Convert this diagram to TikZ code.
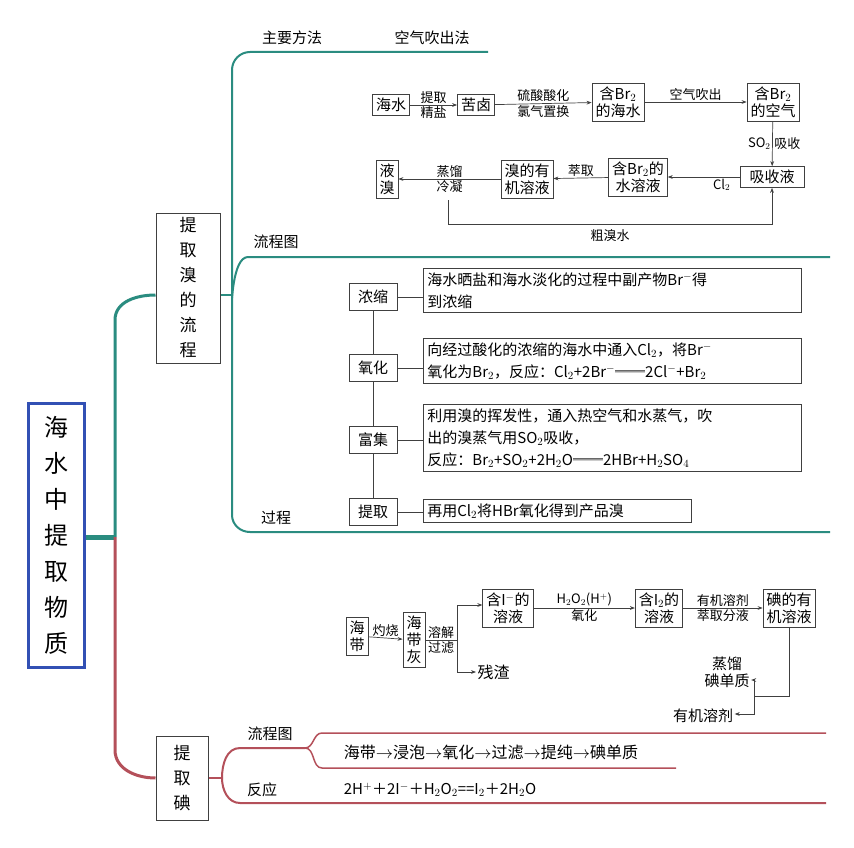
\documentclass[tikz,border=0pt]{standalone}
\usepackage{fontspec}
\setmainfont{Noto Sans CJK SC}
\usetikzlibrary{arrows.meta}
\definecolor{teal1}{RGB}{42,140,128}
\definecolor{red1}{RGB}{180,80,90}
\definecolor{blue1}{RGB}{50,80,180}
\tikzset{
 bx/.style={draw=black!75,line width=0.8pt,inner sep=3.5pt,align=center,font=\fontsize{15}{17}\selectfont},
 tx/.style={inner sep=1.5pt,align=center,font=\fontsize{13}{15}\selectfont},
 ar/.style={draw=black!75,line width=0.7pt,-{Stealth[length=5pt]}},
 ln/.style={draw=black!75,line width=0.7pt},
 tb/.style={teal1,line width=2pt},
 rb/.style={red1,line width=2pt},
 lab/.style={inner sep=1pt,font=\fontsize{15}{17}\selectfont},
 pl/.style={draw=black!75,line width=0.8pt,minimum width=48pt,minimum height=27pt,font=\fontsize{15}{17}\selectfont},
 pbox/.style={draw=black!75,line width=0.8pt,align=left,inner sep=4pt,font=\fontsize{15}{22}\selectfont,anchor=north west,text width=#1},
}
\begin{document}
\begin{tikzpicture}[x=1pt,y=-1pt]
\useasboundingbox[fill=white] (0,0) rectangle (854,848);
% main box
\node[draw=blue1,line width=3pt,minimum width=56pt,minimum height=264pt,align=center,font=\fontsize{24}{36}\selectfont] (main) at (56,535) {海\\水\\中\\提\\取\\物\\质};
\node[draw=black!75,line width=1pt,minimum width=64pt,minimum height=150pt,align=center,font=\fontsize{17}{25}\selectfont] (br) at (188,288) {提\\取\\溴\\的\\流\\程};
\node[draw=black!75,line width=1pt,minimum width=52pt,minimum height=84pt,align=center,font=\fontsize{17}{25}\selectfont] (io) at (182,778) {提\\取\\碘};
% trunk
\coordinate (t0) at (115,537);
\draw[teal1,line width=5pt] (main.east|-t0) -- (t0);
\draw[tb,line width=3pt] (t0) -- (115,320) to[out=90,in=180] (br.west|-0,295);
\draw[rb,line width=3pt] (t0) -- (115,750) to[out=-90,in=180] (io.west|-0,778);
% bromine branches
\coordinate (bj) at (232,295);
\draw[tb] (br.east|-bj) -- (bj);
\draw[tb] (bj) -- (232,70) to[out=90,in=180] (250,52) -- (488,52);
\draw[tb] (bj) to[out=-90,in=180] (248,257) -- (830,257);
\draw[tb] (bj) -- (232,515) to[out=-90,in=180] (250,532) -- (830,532);
\node[lab] (l1) at (292,38) {主要方法};
\node[lab] (l2) at (432,38) {空气吹出法};
\node[lab] (l3) at (276,242) {流程图};
\node[lab] (l4) at (276,518) {过程};
% iodine branches
\coordinate (ij) at (222,778);
\draw[rb] (io.east|-ij) -- (ij);
\draw[rb] (ij) to[out=90,in=180] (240,748) -- (305,748);
\draw[rb] (ij) to[out=-90,in=180] (240,803) -- (826,803);
\draw[rb,line width=1.5pt] (305,748) to[out=0,in=180] (322,733) -- (826,733);
\draw[rb,line width=1.5pt] (305,748) to[out=0,in=180] (322,768) -- (676,768);
\node[lab] (l5) at (270,734) {流程图};
\node[lab] (l6) at (262,790) {反应};
\node[lab,font=\fontsize{16}{18}\selectfont] (l7) at (491,752) {海带$\rightarrow$浸泡$\rightarrow$氧化$\rightarrow$过滤$\rightarrow$提纯$\rightarrow$碘单质};
\node[lab,font=\fontsize{15}{17}\selectfont] (l8) at (440,790) {2H$^{+}$＋2I$^{-}$＋H$_2$O$_2$==I$_2$＋2H$_2$O};
% bromine flow chart
\node[bx] (a1) at (391,105) {海水};
\node[bx] (a2) at (476,105) {苦卤};
\node[bx] (a3) at (618,102) {含Br$_2$\\的海水};
\node[bx] (a4) at (773,102) {含Br$_2$\\的空气};
\node[bx,minimum width=64pt] (a5) at (772,177) {吸收液};
\node[bx] (a6) at (638,177) {含Br$_2$的\\水溶液};
\node[bx] (a7) at (527,179) {溴的有\\机溶液};
\node[bx] (a8) at (387,179) {液\\溴};
\draw[ar] (a1) -- node[tx,above]{提取} node[tx,below]{精盐} (a2);
\draw[ar] (a2) -- node[tx,above]{硫酸酸化} node[tx,below]{氯气置换} (a3);
\draw[ar] (a3) -- node[tx,above]{空气吹出} (a4);
\draw[ar] (a4) -- node[tx,right]{吸收} node[tx,left]{SO$_2$} (a5);
\draw[ar] (a5) -- node[tx,below,pos=0.25]{Cl$_2$} (a6);
\draw[ar] (a6) -- node[tx,above]{萃取} (a7);
\draw[ar] (a7) -- node[tx,above]{蒸馏} node[tx,below]{冷凝} (a8);
\coordinate (c1) at (448,224);
\draw[ar] (448,200) -- (c1) -- node[tx,below=4pt]{粗溴水} (c1-|a5) -- (a5);
% process
\node[pl] (p1) at (373,297) {浓缩};
\node[pl] (p2) at (373,368) {氧化};
\node[pl] (p3) at (373,440) {富集};
\node[pl] (p4) at (373,512) {提取};
\draw[ln] (p1) -- (p2) -- (p3) -- (p4);
\node[pbox=370pt] (q1) at (423,268) {海水晒盐和海水淡化的过程中副产物Br$^{-}$得\\到浓缩};
\node[pbox=370pt] (q2) at (423,338) {向经过酸化的浓缩的海水中通入Cl$_2$，将Br$^{-}$\\氧化为Br$_2$，反应：Cl$_2$+2Br$^{-}$══2Cl$^{-}$+Br$_2$};
\node[pbox=370pt] (q3) at (423,404) {利用溴的挥发性，通入热空气和水蒸气，吹\\出的溴蒸气用SO$_2$吸收，\\反应：Br$_2$+SO$_2$+2H$_2$O══2HBr+H$_2$SO$_4$};
\node[pbox=260pt] (q4) at (423,499) {再用Cl$_2$将HBr氧化得到产品溴};
\draw[ln] (p1) -- (p1-|q1.west);
\draw[ln] (p2) -- (p2-|q2.west);
\draw[ln] (p3) -- (p3-|q3.west);
\draw[ln] (p4) -- (p4-|q4.west);
% iodine flow chart
\node[bx] (b1) at (357,636) {海\\带};
\node[bx] (b2) at (414,640) {海\\带\\灰};
\node[bx] (b3) at (508,608) {含I$^{-}$的\\溶液};
\node[bx] (b4) at (659,608) {含I$_2$的\\溶液};
\node[bx] (b5) at (789,608) {碘的有\\机溶液};
\node[tx,font=\fontsize{16}{18}\selectfont,anchor=west] (b6) at (476,672) {残渣};
\node[tx,font=\fontsize{15}{17}\selectfont,align=center] (b7) at (727,672) {蒸馏\\碘单质};
\node[tx,font=\fontsize{15}{17}\selectfont] (b8) at (703,716) {有机溶剂};
\draw[ar] (b1) -- node[tx,above]{灼烧} (b2);
\coordinate (s1) at (457,640);
\draw[ln] (b2.east|-s1) -- node[tx,above]{溶解} node[tx,below]{过滤} (s1);
\draw[ar] (s1) |- (b3.west|-0,605);
\draw[ar] (s1) |- (b6.west);
\draw[ar] (b3) -- node[tx,above]{H$_2$O$_2$(H$^{+}$)} node[tx,below]{氧化} (b4);
\draw[ar] (b4) -- node[tx,above]{有机溶剂} node[tx,below]{萃取分液} (b5);
\coordinate (s2) at (754,696);
\draw[ln] (b5) |- (s2);
\draw[ar] (s2) |- (b7.east|-0,680);
\draw[ar] (s2) |- (b8.east|-0,714);
\end{tikzpicture}
\end{document}
